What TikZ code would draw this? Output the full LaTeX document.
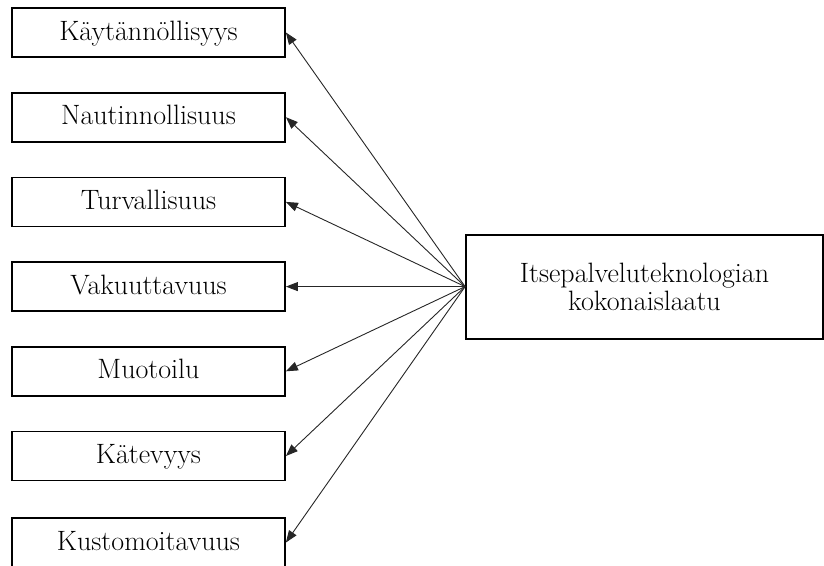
\documentclass[tikz,border=0pt]{standalone}
\usetikzlibrary{arrows.meta}
\begin{document}
\begin{tikzpicture}[x=1pt,y=-1pt,
  box/.style={draw=black, line width=1.8pt, minimum width=273pt, minimum height=49pt, inner sep=0pt,
    font=\fontsize{28}{28}\selectfont, text height=20pt, text depth=5pt},
  bigbox/.style={draw=black, line width=1.8pt, minimum width=357pt, minimum height=104pt, inner sep=0pt,
    font=\fontsize{28}{28}\selectfont, align=center},
  arr/.style={-{Triangle[length=12pt,width=9pt]}, line width=0.9pt, draw=black!85}]
\useasboundingbox (0,0) rectangle (824,565);
\clip (0,0) rectangle (824,565);
\node[box] (b1) at (148.5,32.5) {Käytännöllisyys};
\node[box] (b2) at (148.5,117.2) {Nautinnollisuus};
\node[box] (b3) at (148.5,201.9) {Turvallisuus};
\node[box] (b4) at (148.5,286.6) {Vakuuttavuus};
\node[box] (b5) at (148.5,371.3) {Muotoilu};
\node[box] (b6) at (148.5,456) {Kätevyys};
\node[box] (b7) at (148.5,542.5) {Kustomoitavuus};
\node[bigbox] (r) at (644.5,286.6) {Itsepalveluteknologian\\kokonaislaatu};
\foreach \i in {1,...,7}{
  \draw[arr] (r.west) -- (b\i.east);
}
\end{tikzpicture}
\end{document}
